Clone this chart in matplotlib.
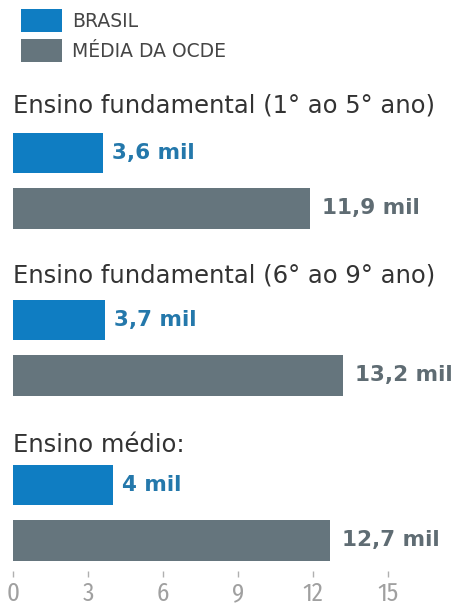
import matplotlib

matplotlib.use("Agg")
import matplotlib.pyplot as plt

# gasto anual por aluno, em mil US$
categories = ["Ensino fundamental (1° ao 5° ano)",
              "Ensino fundamental (6° ao 9° ano)",
              "Ensino médio:"]
brasil = [3.6, 3.7, 4.0]
ocde = [11.9, 13.2, 12.7]
series_names = ["BRASIL", "MÉDIA DA OCDE"]
ticks = [0, 3, 6, 9, 12, 15]

BLUE = "#0f7dc2"
GRAY = "#65757d"
BLUE_TXT = "#2478ab"
GRAY_TXT = "#5f6c73"

WIDE = ["DejaVu Sans"]
COND = ["Fira Sans Condensed", "Barlow Semi Condensed", "DejaVu Sans"]


def fmt(v):
    s = f"{v:.1f}".replace(".", ",")
    if s.endswith(",0"):
        s = s[:-2]
    return f"{s} mil"


W, H = 452, 605
PX = 25  # pixels por mil
fig = plt.figure(figsize=(W / 100, H / 100), dpi=100)
ax = fig.add_axes([0, 0, 1, 1])
# x em mil US$, y em pixels de cima para baixo
ax.set_xlim(-13 / PX, (W - 13) / PX)
ax.set_ylim(H, 0)
ax.axis("off")

# legenda
for yy, name, c in zip([20.5, 50.5], series_names, [BLUE, GRAY]):
    ax.barh(yy, 41 / PX, left=8 / PX, height=23, color=c)
    ax.text(59 / PX, yy + 1, name, fontsize=13.5, family=WIDE, color="#454545",
            va="center", ha="left")

title_y = [112, 283, 452]
bar_y = [153, 320, 485]
gap = 55

for cat, ty, by, b, o in zip(categories, title_y, bar_y, brasil, ocde):
    ax.text(0, ty, cat, fontsize=17.5, family=WIDE, color="#333333",
            va="baseline", ha="left")
    ax.barh(by, b, height=40, color=BLUE)
    ax.barh(by + gap, o, height=41, color=GRAY)
    ax.text(b + 0.36, by, fmt(b), fontsize=15.5, family=WIDE,
            fontweight="bold", color=BLUE_TXT, va="center", ha="left")
    ax.text(o + 0.48, by + gap, fmt(o), fontsize=15.5, family=WIDE,
            fontweight="bold", color=GRAY_TXT, va="center", ha="left")

# eixo x: só marquinhas e números
ax.vlines(ticks, 571, 577, color="#b0b0b0", lw=1)
for t in ticks:
    ax.text(t, 594, str(t), fontsize=18, family=COND,
            color="#a0a0a0", va="center", ha="center")

fig.savefig("out.png", dpi=100, facecolor="white")
